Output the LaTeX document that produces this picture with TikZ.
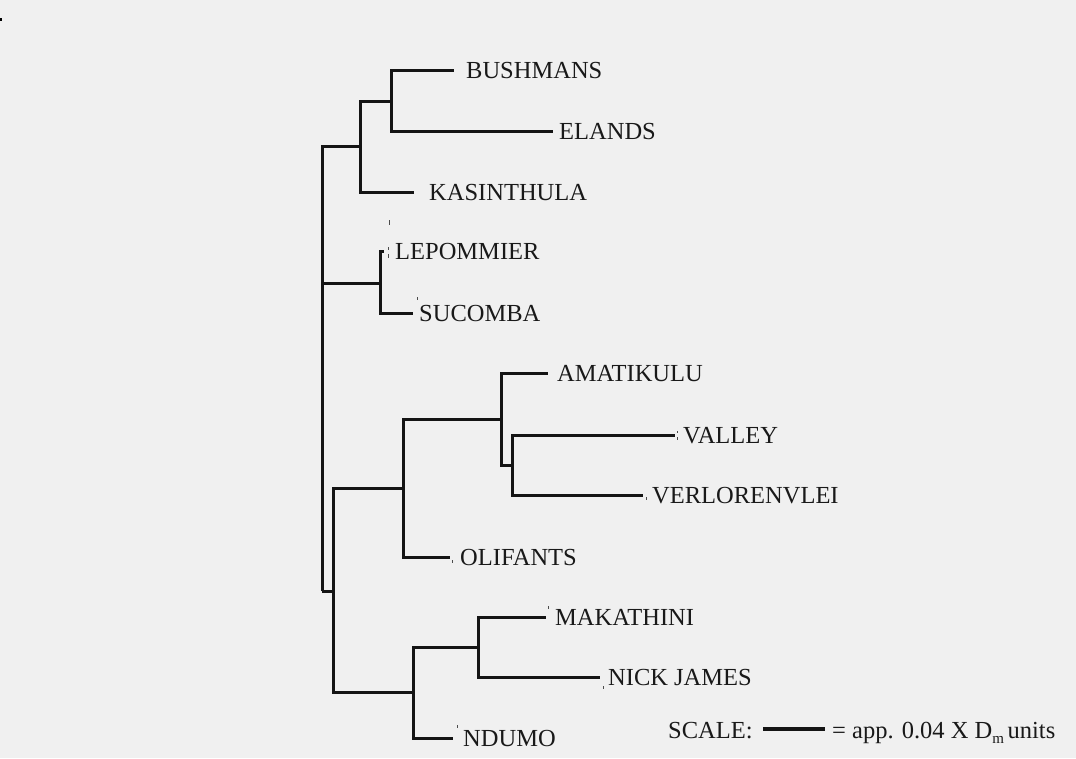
\documentclass[tikz,border=0pt]{standalone}
\usepackage{fontspec}
\setmainfont{Liberation Serif}
\begin{document}
\begin{tikzpicture}[x=1pt,y=-1pt,
  branch/.style={line width=3pt,draw=black!92,line join=miter},
  lab/.style={anchor=base west,inner sep=0pt,text=black!90,font=\fontsize{24.5}{26}\selectfont},
  speck/.style={line width=0.9pt,draw=black!70}]
\useasboundingbox[fill=black!6] (0,0) rectangle (1076,758);

% stray mark in the corner
\fill[black] (0,18) rectangle (1.6,21);

% tips of the branches
\coordinate (bush)  at (454,70);
\coordinate (eland) at (553,131);
\coordinate (kasi)  at (414,192);
\coordinate (lepo)  at (384,251);
\coordinate (suco)  at (413,313);
\coordinate (amat)  at (548,373);
\coordinate (vall)  at (675,435);
\coordinate (verl)  at (643,495);
\coordinate (olif)  at (450,557);
\coordinate (maka)  at (546,617);
\coordinate (nick)  at (600,677);
\coordinate (ndum)  at (453,738);

% internal joints
\coordinate (n1)   at (391,101);
\coordinate (n2)   at (360,146);
\coordinate (n3)   at (380,283);
\coordinate (n4)   at (512,465);
\coordinate (n5)   at (501,419);
\coordinate (n6)   at (403,488);
\coordinate (n7a)  at (478,647);
\coordinate (n7)   at (413,692);
\coordinate (n8)   at (333,591);
\coordinate (root) at (322,591);

% labels
\node[lab] (tBush)  at (466,78)  {BUSHMANS};
\node[lab] (tEland) at (559,139) {ELANDS};
\node[lab] (tKasi)  at (429,200) {KASINTHULA};
\node[lab] (tLepo)  at (395,259) {LEPOMMIER};
\node[lab] (tSuco)  at (419,321) {SUCOMBA};
\node[lab] (tAmat)  at (557,381) {AMATIKULU};
\node[lab] (tVall)  at (683,443) {VALLEY};
\node[lab] (tVerl)  at (652,503) {VERLORENVLEI};
\node[lab] (tOlif)  at (460,565) {OLIFANTS};
\node[lab] (tMaka)  at (555,625) {MAKATHINI};
\node[lab] (tNick)  at (608,685) {NICK JAMES};
\node[lab] (tNdum)  at (463,746) {NDUMO};

% dendrogram
\draw[branch] (n1) |- (bush);
\draw[branch] (n1) |- (eland);
\draw[branch] (n2) |- (n1);
\draw[branch] (n2) |- (kasi);
\draw[branch] (n3) |- (lepo);
\draw[branch] (n3) |- (suco);
\draw[branch] (root) |- (n2);
\draw[branch] (root) |- (n3);
\draw[branch] (root) -- (n8);
\draw[branch] (n4) |- (vall);
\draw[branch] (n4) |- (verl);
\draw[branch] (n5) |- (amat);
\draw[branch] (n5) |- (n4);
\draw[branch] (n6) |- (n5);
\draw[branch] (n6) |- (olif);
\draw[branch] (n7a) |- (maka);
\draw[branch] (n7a) |- (nick);
\draw[branch] (n7) |- (n7a);
\draw[branch] (n7) |- (ndum);
\draw[branch] (n8) |- (n6);
\draw[branch] (n8) |- (n7);

% small specks beside some labels
\draw[speck] (389,220) -- (389,225);
\draw[speck] (388,247) -- (388,250);
\draw[speck] (388,254) -- (388,258);
\draw[speck] (417,297) -- (417,300);
\draw[speck] (677,431) -- (677,433);
\draw[speck] (677,437) -- (677,440);
\draw[speck] (646,497) -- (646,500);
\draw[speck] (452,560) -- (452,563);
\draw[speck] (548,606) -- (548,609);
\draw[speck] (603,686) -- (603,689);
\draw[speck] (457,725) -- (457,728);

% scale bar
\node[lab] (sc) at (668,738) {SCALE:};
\coordinate (barL) at (763,729);
\coordinate (barR) at (825,729);
\draw[line width=4pt,draw=black!92] (barL) -- (barR);
\node[lab] (sct) at (832,738) {= app. 0.04 X D\raisebox{-0.22em}{\fontsize{15}{15}\selectfont m}\hspace{0.15em}units};
\end{tikzpicture}
\end{document}
